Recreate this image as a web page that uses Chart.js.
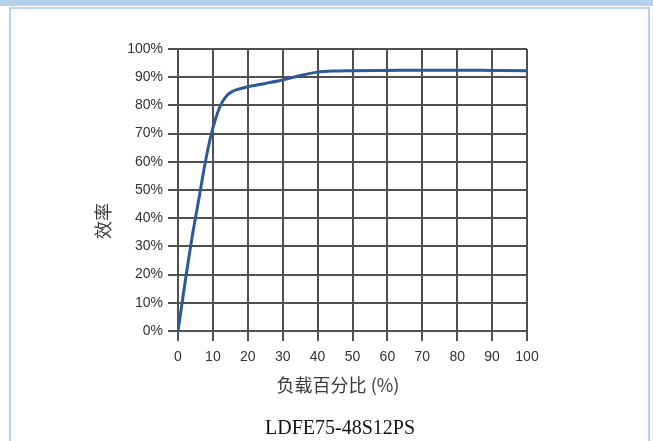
<!DOCTYPE html>
<html lang="zh">
<head>
  <meta charset="UTF-8" />
  <title>LDFE75-48S12PS 效率曲线</title>
  <script src="https://cdn.jsdelivr.net/npm/chart.js"></script>
  <style>
    html, body { margin: 0; padding: 0; background: #fff; }
    body { width: 653px; height: 441px; position: relative; overflow: hidden; font-family: "Liberation Sans", Arial, sans-serif; }
    #band { position: absolute; left: 0; top: 0; width: 653px; height: 6px; background: #b3d1ef; }
    #frame { position: absolute; left: 9px; top: 7px; width: 637px; height: 460px; border: 2px solid #b8d4ef; }
    #wrap { position: absolute; left: 0; top: 0; width: 653px; height: 441px; }
    .lbl { position: absolute; color: #3a3a3a; font-family: "Noto Sans CJK SC", sans-serif; white-space: nowrap; }
    #ytitle { left: 102px; top: 221px; font-size: 18px; transform: translate(-50%, -50%) rotate(-90deg); }
    #xtitle { left: 338px; top: 384px; font-size: 18px; transform: translate(-50%, -50%); }
    #caption { position: absolute; left: 0; width: 680px; top: 416px; text-align: center; font-family: "Liberation Serif", "Times New Roman", serif; font-size: 20px; color: #111; }
  </style>
</head>
<body>
  <div id="band"></div>
  <div id="frame"></div>
  <div id="wrap"><canvas id="effChart" width="653" height="441"></canvas></div>
  <div class="lbl" id="ytitle">效率</div>
  <div class="lbl" id="xtitle">负载百分比 (%)</div>
  <div id="caption">LDFE75-48S12PS</div>

  <script>
    // load (%) and efficiency (%)
    const loadPct = [0, 2, 4, 6, 8, 10, 12, 14, 16, 18, 20, 25, 30, 35, 40, 45, 50, 60, 70, 80, 90, 100];
    const efficiency = [0, 17, 33, 47, 61, 72, 79.5, 83.5, 85.2, 86, 86.6, 87.8, 89, 90.6, 91.8, 92.2, 92.3, 92.4, 92.5, 92.5, 92.4, 92.3];
    const xTicks = [0, 10, 20, 30, 40, 50, 60, 70, 80, 90, 100];
    const yTicks = [0, 10, 20, 30, 40, 50, 60, 70, 80, 90, 100];

    const gridColor = '#505050';
    const tickFont = { family: "'Liberation Sans', Arial, sans-serif", size: 14 };

    new Chart(document.getElementById('effChart'), {
      type: 'line',
      data: {
        datasets: [{
          data: loadPct.map((x, i) => ({ x, y: efficiency[i] })),
          borderColor: '#2d5997',
          borderWidth: 3,
          pointRadius: 0,
          fill: false,
          cubicInterpolationMode: 'monotone'
        }]
      },
      options: {
        responsive: false,
        animation: false,
        layout: { padding: { left: 0, top: 49, right: 126, bottom: 0 } },
        plugins: { legend: { display: false }, tooltip: { enabled: false } },
        scales: {
          x: {
            type: 'linear',
            min: 0, max: 100,
            afterBuildTicks: s => { s.ticks = xTicks.map(v => ({ value: v })); },
            afterFit: s => { s.height = 110; },
            grid: { color: gridColor, lineWidth: 2, tickLength: 10 },
            border: { color: gridColor, width: 2 },
            ticks: { color: '#333', font: tickFont, padding: 8, maxRotation: 0 }
          },
          y: {
            min: 0, max: 100,
            afterBuildTicks: s => { s.ticks = yTicks.map(v => ({ value: v })); },
            afterFit: s => { s.width = 178; },
            grid: { color: gridColor, lineWidth: 2, tickLength: 10 },
            border: { color: gridColor, width: 2 },
            ticks: { color: '#333', font: tickFont, padding: 5, callback: v => v + '%' }
          }
        }
      }
    });
  </script>
</body>
</html>
